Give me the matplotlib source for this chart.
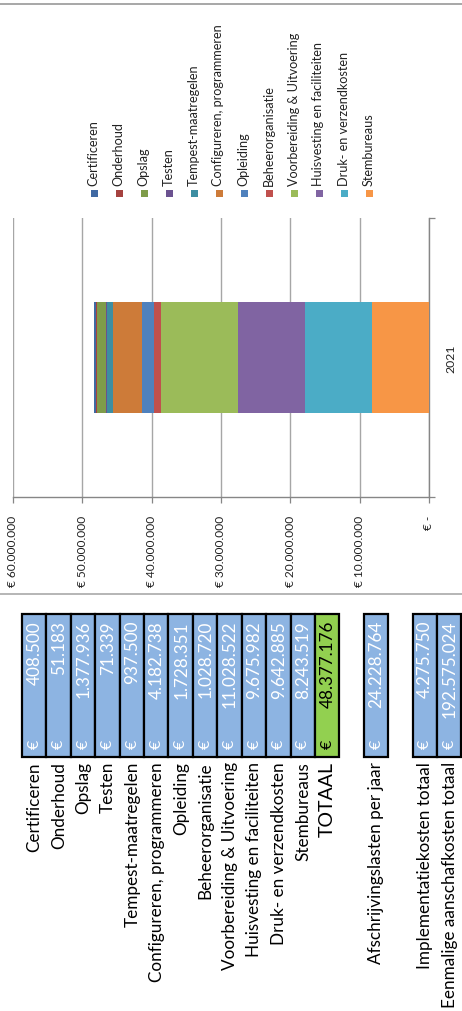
import matplotlib
matplotlib.use("Agg")
import matplotlib.pyplot as plt
from matplotlib.patches import Rectangle
from matplotlib.ticker import FixedLocator

plt.rcParams['font.family'] = ['Lato', 'DejaVu Sans']

# ---------------- data ----------------
categories = ["Certificeren", "Onderhoud", "Opslag", "Testen", "Tempest-maatregelen",
              "Configureren, programmeren", "Opleiding", "Beheerorganisatie",
              "Voorbereiding & Uitvoering", "Huisvesting en faciliteiten",
              "Druk- en verzendkosten", "Stembureaus"]
values_2021 = [408500, 51183, 1377936, 71339, 937500, 4182738, 1728351, 1028720,
               11028522, 9675982, 9642885, 8243519]
series_colors = ["#4069A3", "#A5423F", "#7F9C4A", "#6B5290", "#3D8EA2", "#CD7B39",
                 "#4F81BD", "#C0504D", "#9BBB59", "#8064A2", "#4BACC6", "#F79646"]
year_label = "2021"
total_label = "TOTAAL"
total_value = 48377176
extra_labels = ["Afschrijvingslasten per jaar", "Implementatiekosten totaal",
                "Eenmalige aanschafkosten totaal"]
extra_values = [24228764, 4275750, 192575024]
xticks = [0, 10000000, 20000000, 30000000, 40000000, 50000000, 60000000]
xtick_labels = ["€ -", "€ 10.000.000", "€ 20.000.000", "€ 30.000.000",
                "€ 40.000.000", "€ 50.000.000", "€ 60.000.000"]

W, H = 462, 1012
fig = plt.figure(figsize=(W / 100, H / 100), dpi=100)

def fx(px):
    return px / W

def fy(py):
    return 1 - py / H

GRID = "#A6A6A6"
AXC = "#868686"

# ---------------- chart (rotated stacked column) ----------------
x0, x1, y0, y1 = 13, 429, 219, 498
ax = fig.add_axes([fx(x0), fy(y1), fx(x1) - fx(x0), fy(y0) - fy(y1)])
left = 0
order = list(range(len(categories)))[::-1]  # stack starts with Stembureaus
for i in order:
    ax.barh(0, values_2021[i], left=left, height=0.4, color=series_colors[i],
            linewidth=0, zorder=3)
    left += values_2021[i]
ax.set_xlim(60000000, 0)
ax.set_ylim(-0.5, 0.5)
ax.xaxis.set_major_locator(FixedLocator(xticks))
ax.set_xticklabels(xtick_labels, rotation=90, fontsize=8.6, color="#222222")
ax.tick_params(axis='x', direction='out', length=4, width=0.9, color=AXC, pad=9)
ax.grid(axis='x', color=GRID, linewidth=1.0, zorder=0)
ax.yaxis.tick_right()
ax.set_yticks([0])
ax.set_yticklabels([year_label], rotation=90, fontsize=8.8, va='center', color="#222222")
ax.tick_params(axis='y', length=0, pad=12)
ax.set_yticks([-0.5, 0.5], minor=True)
ax.tick_params(axis='y', which='minor', length=4, width=0.9, color=AXC, direction='out')
for s in ['top', 'left']:
    ax.spines[s].set_visible(False)
for s in ['bottom', 'right']:
    ax.spines[s].set_color(AXC)
    ax.spines[s].set_linewidth(1.0)
ax.set_facecolor('none')

# ---------------- overlay in pixel coords ----------------
ov2 = fig.add_axes([0, 0, 1, 1], zorder=5)
ov2.set_xlim(0, W)
ov2.set_ylim(H, 0)
ov2.axis('off')
ov2.patch.set_alpha(0)

# frame lines
ov2.plot([0, W], [5, 5], color="#A0A0A0", lw=1.3)
ov2.plot([0, W], [594.5, 594.5], color="#B0B0B0", lw=1.3)

# legend
for k, (name, col) in enumerate(zip(categories, series_colors)):
    cx = 94 + 25 * k
    ov2.add_patch(Rectangle((cx - 3.5, 190.5), 7, 7, facecolor=col, edgecolor='none'))
    ov2.text(cx - 0.5, 186, name, rotation=90, ha='center', va='bottom',
             fontsize=9.1, color="#222222")

# table
pitch = 24.41
t0 = 22
ytop, ybot = 615, 758
CELL = "#8DB4E2"
TOT = "#92D050"

def fmt(v):
    return f"{v:,}".replace(",", ".")

def cell(slot, label, value, fill, tcol, lsize):
    xa = t0 + slot * pitch
    ov2.add_patch(Rectangle((xa, ytop), pitch, ybot - ytop, facecolor=fill,
                            edgecolor='black', linewidth=1.6))
    xc = xa + pitch / 2
    ov2.text(xc + 0.5, 749, "€", rotation=90, ha='center', va='bottom',
             fontsize=11.5, color=tcol)
    ov2.text(xc + 0.5, 621, fmt(value), rotation=90, ha='center', va='top',
             fontsize=12.3, color=tcol)
    ov2.text(xc + 0.5, 762, label, rotation=90, ha='center', va='top',
             fontsize=lsize, color="black")

for k, (name, v) in enumerate(zip(categories, values_2021)):
    cell(k, name, v, CELL, "white", 12.3)
cell(len(categories), total_label, total_value, TOT, "black", 14)
for slot, name, v in zip([14, 16, 17], extra_labels, extra_values):
    cell(slot, name, v, CELL, "white", 12.3)

fig.savefig("out.png", dpi=100)
